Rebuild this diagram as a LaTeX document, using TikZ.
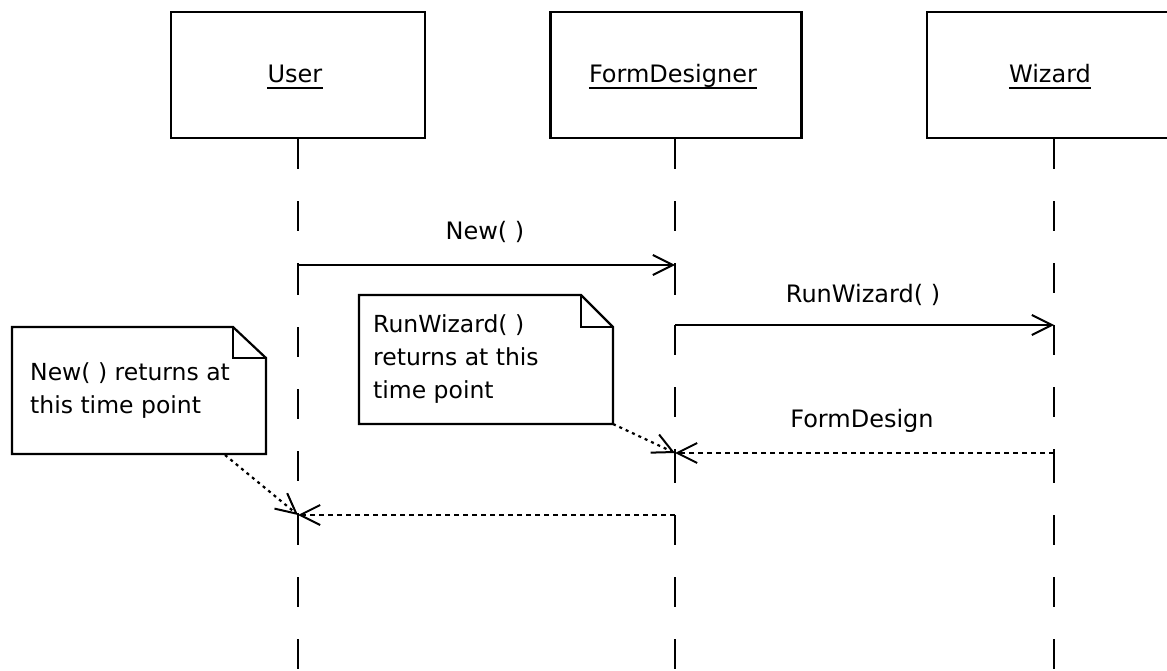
\documentclass[tikz,border=0pt]{standalone}
\usepackage{fontspec}
\setmainfont{DejaVu Sans}
\usetikzlibrary{arrows.meta}
\begin{document}
\begin{tikzpicture}[x=1pt,y=-1pt,
  box/.style={draw, line width=2.2pt, minimum height=126pt, inner sep=0pt},
  lifeline/.style={line width=2.2pt, dash pattern=on 30pt off 32pt},
  msg/.style={line width=2.2pt, -{Straight Barb[length=20pt,width=20pt,line width=2pt]}},
  ret/.style={msg, dash pattern=on 5pt off 4pt},
  notelink/.style={msg, dash pattern=on 3pt off 4pt},
  lbl/.style={font=\fontsize{24}{28}\selectfont, inner sep=0pt, anchor=base},
  notetext/.style={font=\fontsize{23.5}{33}\selectfont, inner sep=0pt, anchor=base west, align=left},
  notebox/.style={draw, line width=2.2pt, line join=miter},
  uline/.style={line width=2.2pt},
]
\useasboundingbox (0,0) rectangle (1167,671);
\clip (0,0) rectangle (1167,671);

% object boxes
\node[box, minimum width=254pt] (user) at (298,75) {};
\node[box, minimum width=251pt] (fd) at (676,75) {};
\node[box, minimum width=254pt] (wiz) at (1054,75) {};

\node[lbl] (tuser) at (295,83) {User};
\node[lbl] (tfd) at (673,83) {FormDesigner};
\node[lbl] (twiz) at (1050,83) {Wizard};
\draw[uline] ([yshift=-5pt]tuser.base west) -- ([yshift=-5pt]tuser.base east);
\draw[uline] ([yshift=-5pt]tfd.base west) -- ([yshift=-5pt]tfd.base east);
\draw[uline] ([yshift=-5pt]twiz.base west) -- ([yshift=-5pt]twiz.base east);

% lifeline points
\coordinate (uNew) at (298,265);
\coordinate (uRet) at (298,515);
\coordinate (uEnd) at (298,680);
\coordinate (fNew) at (675,265);
\coordinate (fRun) at (675,325);
\coordinate (fDes) at (675,453);
\coordinate (fRet) at (675,515);
\coordinate (fEnd) at (675,680);
\coordinate (wRun) at (1054,325);
\coordinate (wDes) at (1054,453);
\coordinate (wEnd) at (1054,680);

% lifelines
\draw[lifeline] (user.south) -- (uNew);
\draw[lifeline] (uNew) -- (uRet);
\draw[lifeline] (uRet) -- (uEnd);
\draw[lifeline] (fd.south -| fNew) -- (fNew);
\draw[lifeline] (fNew) -- (fRun);
\draw[lifeline] (fRun) -- (fDes);
\draw[lifeline] (fDes) -- (fRet);
\draw[lifeline] (fRet) -- (fEnd);
\draw[lifeline] (wiz.south) -- (wRun);
\draw[lifeline] (wRun) -- (wDes);
\draw[lifeline] (wDes) -- (wEnd);

% messages
\draw[msg] (uNew) -- (fNew);
\node[lbl] (lNew) at (485,240) {New( )};
\draw[msg] (fRun) -- (wRun);
\node[lbl] (lRun) at (863,302) {RunWizard( )};
\draw[ret] (wDes) -- (fDes);
\node[lbl] (lDes) at (862,427) {FormDesign};
\draw[ret] (fRet) -- (uRet);

% note 1
\draw[notebox] (12,327) -- (233,327) -- (266,358) -- (266,454) -- (12,454) -- cycle;
\draw[notebox] (233,327) -- (233,358) -- (266,358);
\node[notetext] (n1t) at (30,413) {New( ) returns at\\this time point};
\coordinate (n1a) at (225,455);
\draw[notelink] (n1a) -- (uRet);

% note 2
\draw[notebox] (359,295) -- (581,295) -- (613,327) -- (613,424) coordinate (n2a) -- (359,424) -- cycle;
\draw[notebox] (581,295) -- (581,327) -- (613,327);
\node[notetext] (n2t) at (373,398) {RunWizard( )\\returns at this\\time point};
\draw[notelink] (n2a) -- (fDes);
\end{tikzpicture}
\end{document}
